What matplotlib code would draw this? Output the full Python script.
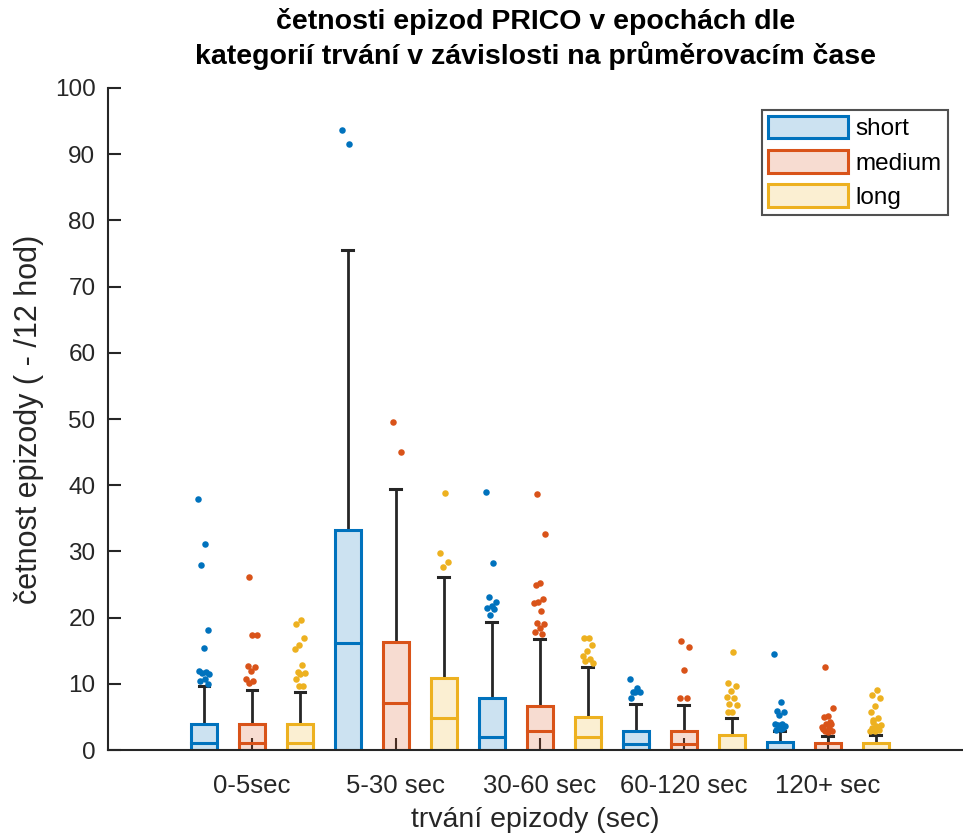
import numpy as np
import matplotlib
matplotlib.use("Agg")
import matplotlib.pyplot as plt
from matplotlib.patches import Rectangle, Patch
from matplotlib.colors import to_rgba

plt.rcParams['font.family'] = ['Liberation Sans', 'DejaVu Sans']

categories = ['0-5sec', '5-30 sec', '30-60 sec', '60-120 sec', '120+ sec']
series = ['short', 'medium', 'long']
colors = ['#0072BD', '#D95319', '#EDB120']

# box stats per series, one value per category
q1 = {
    'short':  [0, 0, 0, 0, 0],
    'medium': [0, 0, 0, 0, 0],
    'long':   [0, 0, 0, 0, 0],
}
median = {
    'short':  [1.0, 16.2, 2.0, 0.9, 0],
    'medium': [1.0, 7.1, 2.8, 0.9, 0],
    'long':   [1.0, 4.9, 1.9, 0, 0],
}
q3 = {
    'short':  [3.95, 33.3, 7.8, 2.9, 1.25],
    'medium': [3.9, 16.3, 6.7, 2.8, 1.1],
    'long':   [3.9, 10.9, 5.0, 2.2, 1.1],
}
whisker_hi = {
    'short':  [9.7, 75.5, 19.4, 6.9, 2.8],
    'medium': [9.0, 39.5, 16.8, 6.8, 2.1],
    'long':   [8.7, 26.2, 12.5, 4.9, 2.2],
}
outliers = {
    'short': [
        [37.9, 31.1, 28.0, 18.2, 15.4, 12.0, 11.8, 11.6, 11.5, 10.7, 10.4, 9.9],
        [93.6, 91.5],
        [38.9, 28.3, 23.1, 22.3, 21.8, 21.5, 21.3, 20.4],
        [10.7, 9.4, 8.8, 8.8, 8.7, 7.8],
        [14.5, 7.3, 5.9, 5.8, 5.3, 4.0, 4.0, 3.8, 3.7, 3.1, 3.0, 3.3],
    ],
    'medium': [
        [26.1, 17.4, 17.3, 12.7, 12.6, 11.9, 10.7, 10.4, 10.1],
        [49.5, 45.0],
        [38.6, 32.6, 25.3, 25.0, 22.8, 22.4, 22.2, 21.0, 19.2, 19.1, 18.5, 17.8, 17.5],
        [16.5, 15.5, 12.1, 7.8, 7.8],
        [12.6, 6.3, 5.1, 5.0, 4.0, 3.9, 3.5, 3.3, 2.9, 2.8, 2.7, 3.1, 4.3],
    ],
    'long': [
        [19.6, 19.0, 16.9, 15.9, 15.3, 12.8, 11.8, 11.7, 11.5, 10.7, 9.7, 9.7],
        [38.8, 29.8, 28.4, 27.7],
        [16.9, 16.9, 15.9, 14.9, 14.2, 13.7, 13.5, 13.1],
        [14.8, 10.1, 9.7, 8.9, 8.0, 7.9, 7.0, 6.8, 5.8, 5.7],
        [9.1, 8.3, 7.9, 6.7, 5.7, 4.8, 4.6, 3.8, 3.7, 3.3, 3.0, 2.8, 2.85, 3.5, 4.2],
    ],
}

axcol = '#262626'
fig = plt.figure(figsize=(9.63, 8.34), dpi=100)
ax = fig.add_axes([0.1121, 0.1007, 0.888, 0.7938])

group_x = np.arange(1, len(categories) + 1)
offsets = [-1 / 3, 0, 1 / 3]
bw = 0.18
cap = 0.075

for s, name in enumerate(series):
    c = colors[s]
    for g, gx in enumerate(group_x):
        x = gx + offsets[s]
        lo, md, hi, wh = q1[name][g], median[name][g], q3[name][g], whisker_hi[name][g]
        ax.add_patch(Rectangle((x - bw / 2, lo), bw, hi - lo, facecolor=to_rgba(c, 0.2),
                               edgecolor=c, linewidth=2.2, zorder=2))
        ax.plot([x - bw / 2, x + bw / 2], [md, md], color=c, lw=2.2, zorder=3)
        ax.plot([x, x], [hi, wh], color=axcol, lw=2.0, zorder=1.8, solid_capstyle='butt')
        ax.plot([x - cap / 2, x + cap / 2], [wh, wh], color=axcol, lw=2.2, zorder=1.8)
        pts = np.array(outliers[name][g])
        k = np.arange(len(pts))
        jit = ((k * 0.618034 + 0.3 * s) % 1 - 0.5) * 0.085
        ax.scatter(x + jit, pts, s=22, color=c, linewidths=0, zorder=4)

ax.set_xlim(0, 5.94)
ax.set_ylim(0, 100)
ax.set_xticks(group_x)
ax.set_xticklabels(categories)
ax.set_yticks(np.arange(0, 101, 10))
ax.tick_params(direction='in', length=9, width=1.5, colors=axcol, labelsize=17.5, pad=9)
ax.tick_params(axis='x', labelsize=18.5, pad=17)
for sp in ['top', 'right']:
    ax.spines[sp].set_visible(False)
for sp in ['left', 'bottom']:
    ax.spines[sp].set_color(axcol)
    ax.spines[sp].set_linewidth(1.5)
ax.spines['bottom'].set_zorder(5)

ax.set_xlabel('trvání epizody (sec)', fontsize=20.5, color=axcol, labelpad=7)
ax.set_ylabel('četnost epizody ( - /12 hod)', fontsize=22, color=axcol, labelpad=8)
ax.set_title('četnosti epizod PRICO v epochách dle\nkategorií trvání v závislosti na průměrovacím čase',
             fontsize=20.5, fontweight='bold', color='black', pad=17, linespacing=1.3)

handles = [Patch(facecolor=to_rgba(c, 0.2), edgecolor=c, linewidth=2.2) for c in colors]
leg = ax.legend(handles, series, loc='upper right', bbox_to_anchor=(0.982, 0.967),
                borderaxespad=0, fontsize=17.5, fancybox=False, handlelength=3.3,
                handleheight=1.05, labelspacing=0.4, handletextpad=0.3,
                borderpad=0.25, edgecolor=axcol)
leg.get_frame().set_linewidth(1.5)

fig.savefig('out.png', dpi=100)
